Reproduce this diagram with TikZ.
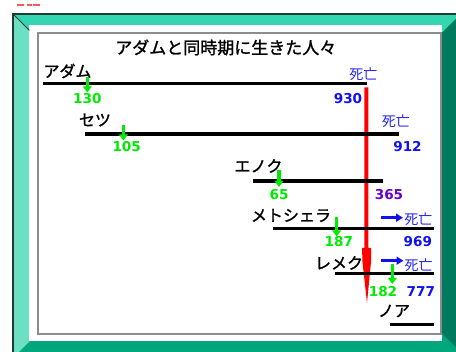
\documentclass[tikz,border=0pt]{standalone}
\usepackage{fontspec}
\usetikzlibrary{arrows.meta}
\newfontfamily\jp{Noto Sans CJK JP}
\newfontfamily\jpb[FakeBold=1.3]{Noto Sans CJK JP}
\newfontfamily\numf{DejaVu Sans}
\definecolor{topbev}{RGB}{51,214,176}
\definecolor{leftbev}{RGB}{109,224,196}
\definecolor{rightbev}{RGB}{0,122,94}
\definecolor{botbev}{RGB}{0,166,124}
\definecolor{outl}{RGB}{30,59,54}
\definecolor{panelgray}{RGB}{140,140,140}
\definecolor{lgreen}{RGB}{0,235,0}
\definecolor{dblue}{RGB}{16,16,240}
\definecolor{deathblue}{RGB}{40,40,240}
\definecolor{dpurple}{RGB}{102,0,204}
\definecolor{faintred}{RGB}{240,90,90}
\tikzset{
  jpl/.style={font=\jpb\fontsize{16}{16}\selectfont, inner sep=0pt},
  titlel/.style={font=\jpb\fontsize{17}{17}\selectfont, inner sep=0pt},
  numl/.style={font=\numf\bfseries\fontsize{13.6}{13.6}\selectfont, inner sep=0pt},
  death/.style={font=\jp\fontsize{14}{14}\selectfont, text=deathblue, inner sep=0pt},
  life/.style={line width=3.2pt, black},
  birth/.style={draw=lgreen, line width=3.5pt, -{Triangle[width=8.5pt,length=6pt]}},
  darr/.style={draw=dblue, line width=3pt, -{Triangle[width=8pt,length=7pt]}},
}
\begin{document}
\begin{tikzpicture}[x=1pt,y=-1pt]
\useasboundingbox (0,0) rectangle (456,352);
\begin{scope}
\clip (0,0) rectangle (456,352);
% frame
\fill[botbev] (13,14) rectangle (480,400);
\fill[leftbev] (13,14) -- (29.3,30.3) -- (29.3,341.5) -- (13,357.8) -- cycle;
\fill[topbev] (13,14) -- (461,14) -- (441.7,33.3) -- (441.7,25) -- (29.3,25) -- (29.3,30.3) -- cycle;
\fill[rightbev] (461,14) -- (480,14) -- (480,371.3) -- (441.7,333) -- (441.7,33.3) -- cycle;
\fill[white] (29.3,25) rectangle (441.7,341.5);
\draw[outl, line width=1.3pt] (13,400) -- (13,14) -- (480,14);
\draw[outl, line width=1pt] (13,14) -- (29.3,30.3);
\draw[panelgray, line width=2pt] (37.7,33.3) rectangle (440.8,333.7);
% faint red marks at top
\draw[faintred, line width=1.6pt] (17.3,5.3) -- (24,5.3) (26.7,5.3) -- (31.7,5.3) (33.3,5.3) -- (40,5.3);
\end{scope}

% title
\node[titlel] (title) at (225.8,47.5) {アダムと同時期に生きた人々};

% red arrow (Adam's death)
\fill[red] (364.3,87.3) -- (368.3,87.3) -- (368.3,248) -- (371,248) -- (371,262)
  -- (367,303) -- (362.5,262) -- (362,248) -- (364.3,248) -- cycle;

% Adam
\node[jpl] (adam) at (67.5,71) {アダム};
\coordinate (adamS) at (43,83.3);
\coordinate (adamE) at (367,83.3);
\draw[life] (adamS) -- (adamE);
\coordinate (adamB1) at (87.3,77.5);
\coordinate (adamB2) at (87.3,92.5);
\draw[birth] (adamB1) -- (adamB2);
\node[numl, text=lgreen] (n130) at (87.3,98.3) {130};
\node[death] (adamD) at (363.3,73.8) {死亡};
\node[numl, text=dblue] (n930) at (348,98.7) {930};

% Seth
\node[jpl] (seth) at (95,120) {セツ};
\coordinate (sethS) at (85,134);
\coordinate (sethE) at (399.3,134);
\draw[life] (sethS) -- (sethE);
\coordinate (sethB1) at (123.3,125);
\coordinate (sethB2) at (123.3,140.5);
\draw[birth] (sethB1) -- (sethB2);
\node[numl, text=lgreen] (n105) at (126.7,146.7) {105};
\node[death] (sethD) at (395.8,121) {死亡};
\node[numl, text=dblue] (n912) at (407.5,147) {912};

% Enoch
\node[jpl] (enoch) at (258.5,166) {エノク};
\coordinate (enochS) at (253,181);
\coordinate (enochE) at (383,181);
\draw[life] (enochS) -- (enochE);
\coordinate (enochB1) at (279,170.5);
\coordinate (enochB2) at (279,187);
\draw[birth] (enochB1) -- (enochB2);
\node[numl, text=lgreen] (n65) at (279,194.7) {65};
\node[numl, text=dpurple] (n365) at (389,194.7) {365};

% Methuselah
\node[jpl] (meth) at (291,215.5) {メトシェラ};
\coordinate (methS) at (273,228.3);
\coordinate (methE) at (434,228.3);
\draw[life] (methS) -- (methE);
\coordinate (methB1) at (336.7,217.5);
\coordinate (methB2) at (336.7,236.5);
\draw[birth] (methB1) -- (methB2);
\node[numl, text=lgreen] (n187) at (338.8,242) {187};
\coordinate (methA1) at (381,217.7);
\coordinate (methA2) at (403,217.7);
\draw[darr] (methA1) -- (methA2);
\node[death] (methD) at (418.3,219) {死亡};
\node[numl, text=dblue] (n969) at (417.8,242) {969};

% Lamech
\node[jpl] (lamech) at (339,263) {レメク};
\coordinate (lamS) at (335,273.3);
\coordinate (lamE) at (434,273.3);
\draw[life] (lamS) -- (lamE);
\coordinate (lamB1) at (392.3,264);
\coordinate (lamB2) at (392.3,284);
\draw[birth] (lamB1) -- (lamB2);
\node[numl, text=lgreen] (n182) at (383,291.7) {182};
\coordinate (lamA1) at (381,260.7);
\coordinate (lamA2) at (403.5,260.7);
\draw[darr] (lamA1) -- (lamA2);
\node[death] (lamD) at (418.7,264.7) {死亡};
\node[numl, text=dblue] (n777) at (420.8,291.7) {777};

% Noah
\node[jpl] (noah) at (394,311) {ノア};
\coordinate (noahS) at (390,324.3);
\coordinate (noahE) at (434,324.3);
\draw[life] (noahS) -- (noahE);
\end{tikzpicture}
\end{document}
